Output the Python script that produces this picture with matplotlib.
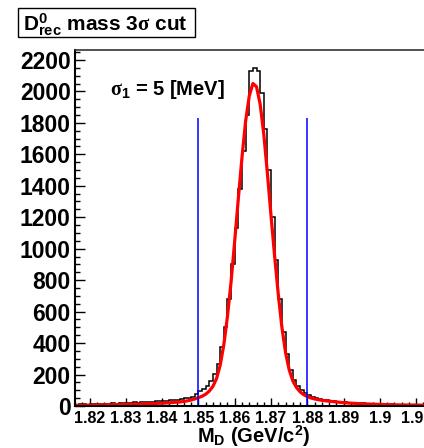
import numpy as np
import matplotlib
matplotlib.use("Agg")
import matplotlib.pyplot as plt
from matplotlib.ticker import MultipleLocator, FixedLocator, FixedFormatter
from matplotlib.patches import Rectangle

plt.rcParams['font.family'] = 'Liberation Sans'
plt.rcParams['font.weight'] = 'bold'
plt.rcParams['mathtext.fontset'] = 'custom'
plt.rcParams['mathtext.rm'] = 'Liberation Serif'
plt.rcParams['mathtext.bf'] = 'Liberation Sans:bold'
plt.rcParams['mathtext.default'] = 'rm'

# histogram: 1 MeV bins from 1.816 to 1.916 GeV
hist_lo = 1.816
bin_w = 0.001
counts = [8, 10, 12, 9, 11, 13, 12, 14, 12, 15,
          17, 15, 18, 20, 19, 21, 23, 22, 24, 26,
          25, 28, 30, 29, 32, 34, 36, 38, 41, 44,
          48, 52, 58, 76, 98, 110, 130, 160, 205, 270,
          375, 500, 680, 900, 1130, 1380, 1620, 1850, 2130, 2150,
          2130, 1990, 1760, 1500, 1200, 930, 680, 470, 330, 230,
          165, 125, 100, 84, 70, 58, 50, 44, 40, 36,
          33, 30, 28, 26, 24, 22, 21, 19, 18, 16,
          15, 14, 13, 12, 12, 11, 10, 10, 9, 9,
          8, 8, 7, 7, 7, 6, 6, 6, 5, 5]

# fit curve
fit_x = [1.816, 1.821, 1.826, 1.831, 1.836, 1.841, 1.845, 1.846, 1.847, 1.848,
         1.849, 1.850, 1.851, 1.852, 1.853, 1.854, 1.855, 1.856, 1.857, 1.858,
         1.859, 1.860, 1.861, 1.862, 1.863, 1.864, 1.865, 1.866, 1.867, 1.868,
         1.869, 1.870, 1.871, 1.872, 1.873, 1.874, 1.875, 1.876, 1.877, 1.878,
         1.879, 1.880, 1.881, 1.882, 1.883, 1.884, 1.885, 1.890, 1.895, 1.900,
         1.905, 1.910, 1.916]
fit_y = [4, 6, 8, 11, 14, 19, 26, 29, 33, 38,
         45, 53, 62, 75, 95, 125, 175, 260, 390, 570,
         790, 1050, 1320, 1580, 1810, 1970, 2050, 2030, 1920, 1730,
         1480, 1210, 950, 710, 500, 340, 230, 160, 118, 90,
         72, 60, 51, 45, 40, 36, 33, 21, 14, 10,
         7, 6, 4]

cut_lo, cut_hi = 1.85, 1.88
cut_top = 1830

xticks = [1.82, 1.83, 1.84, 1.85, 1.86, 1.87, 1.88, 1.89, 1.90, 1.91]
xlabels = ['1.82', '1.83', '1.84', '1.85', '1.86', '1.87', '1.88', '1.89', '1.9', '1.91']

W, H = 424, 448
fig = plt.figure(figsize=(W/100, H/100), dpi=100)
ax = fig.add_axes([75/W, 42/H, 363/W, 356/H])

edges = hist_lo + bin_w*np.arange(len(counts)+1)
ax.stairs(counts, edges, color='black', lw=1.1)
ax.plot(fit_x, fit_y, color='red', lw=2.3)
ax.vlines([cut_lo, cut_hi], 0, cut_top, color='blue', lw=1.1)

ax.set_xlim(1.816, 1.916)
ax.set_ylim(0, 2263)

ax.xaxis.set_major_locator(FixedLocator(xticks))
ax.xaxis.set_major_formatter(FixedFormatter(xlabels))
ax.xaxis.set_minor_locator(MultipleLocator(0.002))
ax.yaxis.set_major_locator(MultipleLocator(200))
ax.yaxis.set_minor_locator(MultipleLocator(50))

ax.tick_params(axis='x', which='major', direction='in', length=6, width=1, labelsize=11.5, pad=3.5)
ax.tick_params(axis='x', which='minor', direction='in', length=3, width=1)
ax.tick_params(axis='y', which='major', direction='in', length=7, width=1, labelsize=16.5, pad=3)
ax.tick_params(axis='y', which='minor', direction='in', length=3.5, width=1)
for lab in ax.get_xticklabels() + ax.get_yticklabels():
    lab.set_fontweight('bold')

ax.spines['right'].set_visible(False)
ax.spines['left'].set_linewidth(1.5)
ax.spines['bottom'].set_linewidth(1.5)
ax.spines['top'].set_linewidth(1.2)
ax.spines['top'].set_color('#333333')

fig.text(254/W, 1 - 443/H, r"$\mathbf{M}_{\mathbf{D}}$ (GeV/$\mathbf{c}^{\mathbf{2}}$)",
         ha='center', va='baseline', fontsize=14.5, fontweight='bold')

fig.patches.append(Rectangle((18/W, 1 - 37/H), 177/W, 29/H, transform=fig.transFigure,
                             facecolor='white', edgecolor='black', lw=1))
fig.text(23/W, 1 - 31/H, r"$\mathbf{D}^{\mathbf{0}}_{\mathbf{rec}}$ mass 3$\sigma$ cut",
         ha='left', va='baseline', fontsize=15, fontweight='bold')

fig.text(110/W, 1 - 95/H, r"$\sigma_{\mathbf{1}}$ = 5 [MeV]",
         ha='left', va='baseline', fontsize=14.5, fontweight='bold')

fig.savefig('out.png', dpi=100)
